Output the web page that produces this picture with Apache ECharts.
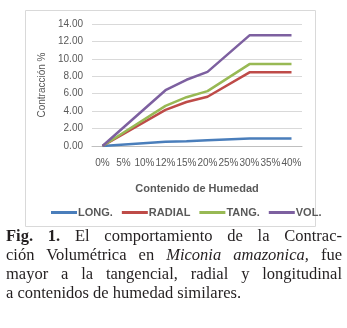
<!DOCTYPE html>
<html>
<head>
<meta charset="utf-8">
<script src="https://cdn.jsdelivr.net/npm/echarts@6/dist/echarts.min.js"></script>
<style>
  html, body { margin: 0; padding: 0; background: #fff; }
  #chart { width: 347px; height: 230px; }
  .cap { position: relative; width: 336px; margin-left: 6px; margin-top: -4px; font-family: 'Liberation Serif', 'DejaVu Serif', serif;
         font-size: 16.5px; line-height: 19px; color: #231f20; }
  .cap div { text-align: justify; text-align-last: justify; white-space: nowrap; }
  .cap div.last { text-align-last: left; }
</style>
</head>
<body>
<div id="chart"></div>
<div class="cap">
  <div><b>Fig. 1.</b> El comportamiento de la Contrac-</div>
  <div>ción Volumétrica en <i>Miconia amazonica,</i> fue</div>
  <div>mayor a la tangencial, radial y longitudinal</div>
  <div class="last">a contenidos de humedad similares.</div>
</div>
<script>
const humedad = ['0%', '5%', '10%', '12%', '15%', '20%', '25%', '30%', '35%', '40%']
const longVals = [0, null, null, 0.5, 0.55, 0.65, null, 0.85, 0.85, 0.85]
const radialVals = [0, null, null, 4.15, 5.05, 5.65, null, 8.45, 8.45, 8.45]
const tangVals = [0, null, null, 4.6, 5.6, 6.3, null, 9.4, 9.4, 9.4]
const volVals = [0, null, null, 6.4, 7.6, 8.5, null, 12.7, 12.7, 12.7]
const names = ['LONG.', 'RADIAL', 'TANG.', 'VOL.']
const colors = ['#4a7ebb', '#be4b48', '#98b954', '#7d60a0']

const font = "'Liberation Sans Narrow', 'Liberation Sans', Arial, sans-serif"
const chart = echarts.init(document.getElementById('chart'))

const mk = (name, data, color) => ({
    name: name,
    type: 'line',
    data: data,
    connectNulls: true,
    symbol: 'none',
    lineStyle: { width: 2.5, color: color },
    itemStyle: { color: color }
})

chart.setOption({
    animation: false,
    graphic: [{
        type: 'rect',
        shape: { x: 25.5, y: 10.5, width: 290, height: 216 },
        style: { fill: 'none', stroke: '#d9d9d9', lineWidth: 1 }
    }],
    grid: { left: 92, top: 24, width: 210, height: 122 },
    legend: {
        left: 46,
        top: 202,
        icon: 'rect',
        itemWidth: 26,
        itemHeight: 3,
        itemGap: 9,
        data: names,
        textStyle: { color: '#595959', fontSize: 11, fontWeight: 'bold', fontFamily: font, padding: [0, 0, 0, -4] }
    },
    xAxis: {
        type: 'category',
        data: humedad,
        name: 'Contenido de Humedad',
        nameLocation: 'middle',
        nameGap: 37,
        nameTextStyle: { color: '#595959', fontSize: 11, fontWeight: 'bold', fontFamily: font },
        axisTick: { show: false },
        axisLine: { lineStyle: { color: '#bfbfbf' } },
        axisLabel: { color: '#595959', fontSize: 10, fontFamily: font, interval: 0, margin: 12 }
    },
    yAxis: {
        type: 'value',
        min: 0,
        max: 14,
        interval: 2,
        name: 'Contracción %',
        nameLocation: 'middle',
        nameGap: 42,
        nameTextStyle: { color: '#595959', fontSize: 10, fontFamily: font },
        axisLine: { show: false },
        axisTick: { show: false },
        axisLabel: { color: '#595959', fontSize: 10, fontFamily: font, margin: 9, formatter: v => v.toFixed(2) },
        splitLine: { lineStyle: { color: '#d9d9d9' } }
    },
    series: [
        mk(names[0], longVals, colors[0]),
        mk(names[1], radialVals, colors[1]),
        mk(names[2], tangVals, colors[2]),
        mk(names[3], volVals, colors[3])
    ]
})
</script>
</body>
</html>
